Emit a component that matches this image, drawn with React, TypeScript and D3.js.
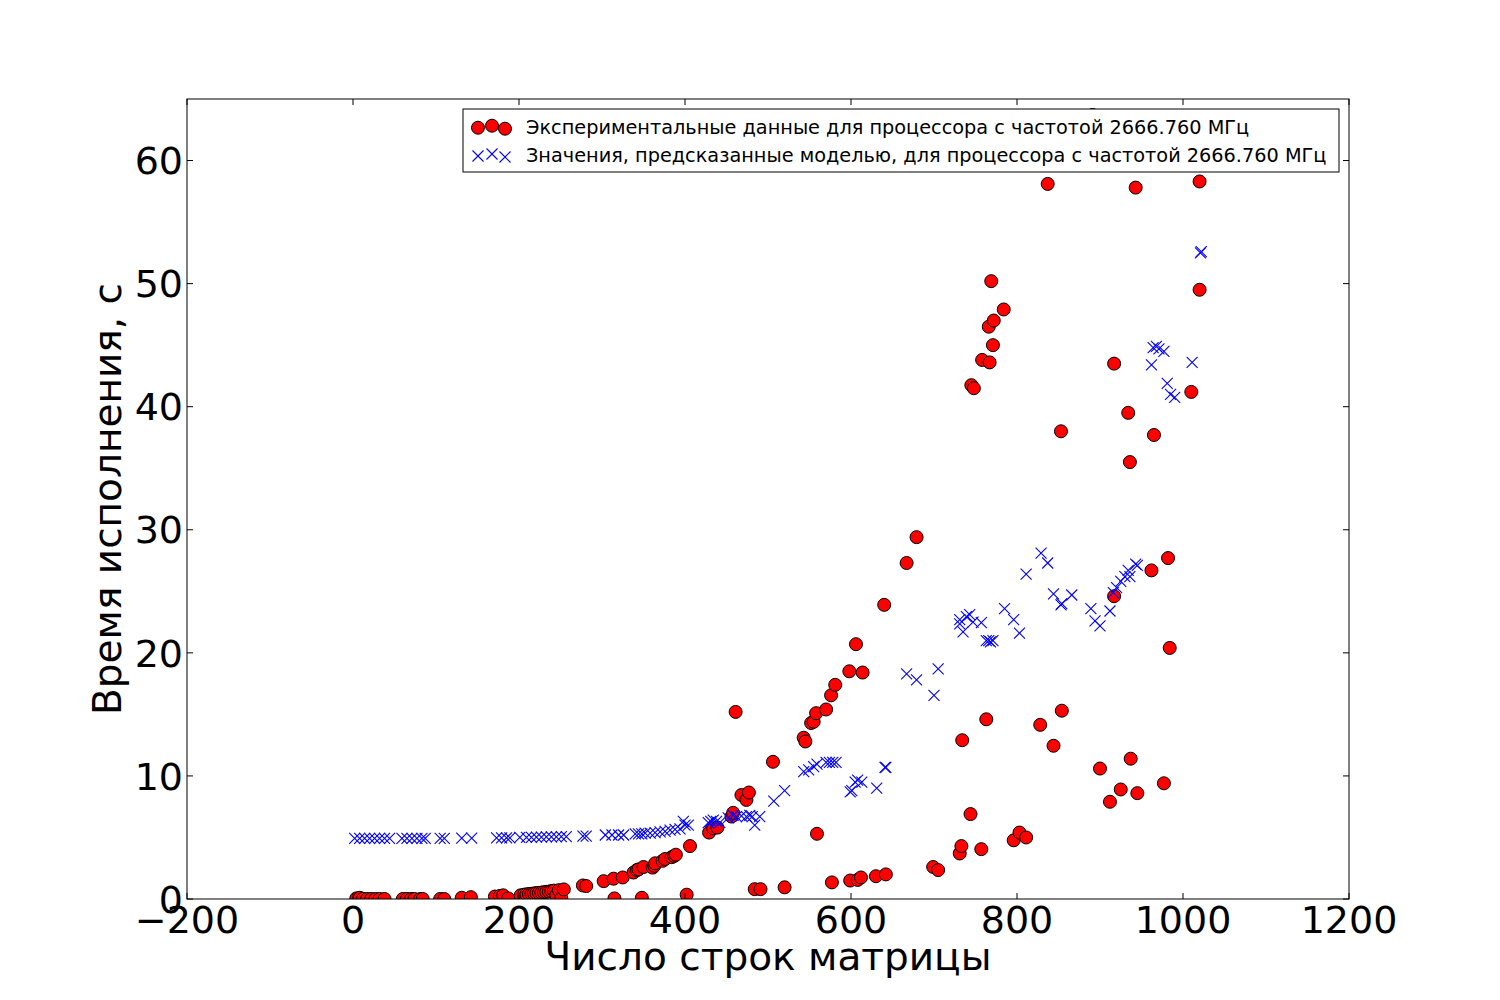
import React, { useEffect } from 'react';
import * as d3 from 'd3';

// Experimental timings (rows of matrix, seconds)
const expRows = [
  4, 8, 12, 17, 22, 27, 32, 38, 60, 65, 70, 74, 81, 84, 105, 110, 131, 142, 171, 177,
  181, 187, 202, 206, 209, 212, 215, 218, 221, 224, 227, 230, 233, 236, 239, 242, 245, 248, 251, 254,
  277, 281, 302, 314, 315, 325, 338, 342, 344, 348, 350, 361, 363, 364, 373, 376, 384, 387, 389, 402,
  406, 429, 434, 439, 456, 458, 461, 468, 474, 477, 484, 491, 506, 520, 543, 545, 552, 555, 558, 559,
  570, 576, 577, 581, 598, 599, 606, 608, 612, 614, 630, 640, 642, 667, 679, 699, 705, 731, 733, 734,
  744, 745, 748, 757, 758, 763, 766, 767, 769, 771, 772, 784, 796, 803, 811, 828, 837, 844, 853, 854,
  891, 900, 912, 917, 917, 925, 934, 936, 937, 943, 945, 962, 965, 977, 982, 984, 1010, 1020, 1020,
];
const expTime = [
  0.05, 0.1, 0.02, 0, 0, 0, 0, 0, 0, 0, 0, 0, 0, 0, 0, 0, 0.1, 0.15, 0.2, 0.25,
  0.3, 0.05, 0.3, 0.35, 0.38, 0.4, 0.42, 0.45, 0.48, 0.5, 0.52, 0.55, 0.58, 0.6, 0.65, 0.68, 0.3, 0.72, 0.05, 0.78,
  1.1, 1.05, 1.45, 1.65, 0.05, 1.75, 2.15, 2.35, 2.4, 0.1, 2.6, 2.55, 2.7, 2.9, 3.1, 3.25, 3.4, 3.5, 3.6, 0.35,
  4.3, 5.4, 5.75, 5.8, 6.7, 7.0, 15.2, 8.45, 8.05, 8.65, 0.8, 0.8, 11.15, 0.95, 13.1, 12.8, 14.3, 14.4, 15.1, 5.3,
  15.4, 16.55, 1.35, 17.4, 18.5, 1.5, 20.7, 1.55, 1.75, 18.4, 1.85, 23.9, 2.0, 27.3, 29.4, 2.6, 2.35, 3.7, 4.3, 12.9,
  6.9, 41.75, 41.5, 4.05, 43.8, 14.6, 46.5, 43.6, 50.2, 45.0, 47.0, 47.9, 4.77, 5.4, 5.0, 14.15, 58.1, 12.45, 38.0, 15.3,
  63.7, 10.6, 7.9, 43.5, 24.6, 8.9, 39.5, 35.5, 11.4, 57.8, 8.6, 26.7, 37.7, 9.4, 27.7, 20.4, 41.2, 58.3, 49.5,
];

// Model predictions
const modelRows = [
  2, 8, 14, 20, 26, 32, 38, 44, 59, 65, 71, 77, 83, 87, 105, 110, 131, 143, 173, 179,
  185, 189, 201, 209, 215, 221, 227, 233, 239, 245, 251, 257, 277, 281, 304, 312, 320, 326, 340, 344,
  348, 352, 358, 364, 370, 376, 382, 388, 394, 398, 400, 404, 428, 431, 434, 438, 442, 452, 458, 462,
  468, 474, 478, 481, 484, 490, 507, 520, 543, 549, 555, 559, 570, 574, 578, 582, 599, 601, 605, 608,
  613, 631, 641, 642, 667, 679, 700, 705, 731, 731, 735, 739, 743, 747, 757, 763, 766, 768, 771, 785,
  796, 803, 811, 829, 837, 844, 853, 854, 866, 889, 894, 900, 912, 916, 920, 925, 930, 934, 936, 943,
  945, 962, 964, 968, 971, 977, 981, 985, 990, 1011, 1021, 1022,
];
const modelTime = [
  4.93, 4.93, 4.93, 4.93, 4.93, 4.93, 4.93, 4.93, 4.93, 4.93, 4.93, 4.93, 4.93, 4.93, 4.93, 4.93, 4.95, 4.95, 4.97, 4.97,
  4.97, 4.97, 5.0, 5.0, 5.0, 5.02, 5.02, 5.05, 5.05, 5.05, 5.07, 5.07, 5.1, 5.1, 5.2, 5.2, 5.2, 5.2, 5.3, 5.3,
  5.3, 5.35, 5.35, 5.4, 5.45, 5.5, 5.6, 5.65, 5.7, 6.3, 6.0, 6.0, 6.2, 6.3, 6.4, 6.3, 6.2, 6.6, 6.8, 6.7,
  6.75, 6.7, 6.8, 6.7, 6.0, 6.7, 7.95, 8.8, 10.35, 10.5, 10.75, 10.95, 11.1, 11.1, 11.1, 11.1, 8.7, 8.8, 9.5, 9.65,
  9.5, 9.0, 10.7, 10.7, 18.3, 17.8, 16.55, 18.7, 22.7, 22.35, 21.7, 22.95, 23.1, 22.5, 22.45, 21.0, 21.0, 20.9, 21.0, 23.6,
  22.7, 21.6, 26.4, 28.1, 27.3, 24.8, 23.9, 24.0, 24.7, 23.6, 22.6, 22.2, 23.4, 24.9, 25.3, 25.8, 26.2, 26.7, 26.2, 27.2,
  27.1, 43.4, 44.8, 44.9, 44.7, 44.5, 41.9, 41.0, 40.75, 43.6, 52.5, 52.6,
];

const xTicks = [-200, 0, 200, 400, 600, 800, 1000, 1200];
const yTicks = [0, 10, 20, 30, 40, 50, 60];

const expLabel = 'Экспериментальные данные для процессора с частотой 2666.760 МГц';
const modelLabel = 'Значения, предсказанные моделью, для процессора с частотой 2666.760 МГц';
const xTitle = 'Число строк матрицы';
const yTitle = 'Время исполнения, с';

// matplotlib's legend scatter offsets
const legendOffsets = [0.375, 0.5, 0.3125];

const W = 1500;
const H = 1000;
const margin = { left: 187, right: 151, top: 99, bottom: 101 };
const FONT = '"DejaVu Sans", sans-serif';

export default function App() {
  useEffect(() => {
    document.body.style.margin = '0';
  }, []);

  const x = d3.scaleLinear().domain([-200, 1200]).range([margin.left, W - margin.right]);
  const y = d3.scaleLinear().domain([0, 65]).range([H - margin.bottom, margin.top]);
  const fmt = d3.format('d');

  const x0 = margin.left, x1 = W - margin.right, y0 = H - margin.bottom, y1 = margin.top;
  const tickLen = 6;
  const r = 6.5;
  const xs = 5.5;

  const cross = (cx: number, cy: number, k: number) =>
    `M${cx - k},${cy - k}L${cx + k},${cy + k}M${cx - k},${cy + k}L${cx + k},${cy - k}`;

  // legend geometry
  const lg = { x: 463, y: 109, w: 876, h: 63 };
  const lgMarkX = [478, 492, 505];
  const row1 = 127.5, row2 = 155.5;

  return (
    <svg width={W} height={H} style={{ display: 'block', background: '#fff' }} fontFamily={FONT}>
      <defs>
        <clipPath id="plot-clip">
          <rect x={x0} y={y1} width={x1 - x0} height={y0 - y1} />
        </clipPath>
      </defs>
      <rect x={0} y={0} width={W} height={H} fill="#fff" />

      <g clipPath="url(#plot-clip)">
        {expRows.map((v, i) => (
          <circle key={`e${i}`} cx={x(v)} cy={y(expTime[i])} r={r} fill="#ff0000" stroke="#000" strokeWidth={1} />
        ))}
        {modelRows.map((v, i) => (
          <path key={`m${i}`} d={cross(x(v), y(modelTime[i]), xs)} stroke="#0000ff" strokeWidth={1.1} fill="none" />
        ))}
      </g>

      {/* frame */}
      <rect x={x0} y={y1} width={x1 - x0} height={y0 - y1} fill="none" stroke="#000" strokeWidth={1} />

      {/* x ticks */}
      {xTicks.map((t) => (
        <g key={`xt${t}`}>
          <line x1={x(t)} x2={x(t)} y1={y0} y2={y0 - tickLen} stroke="#000" />
          <line x1={x(t)} x2={x(t)} y1={y1} y2={y1 + tickLen} stroke="#000" />
          <text x={x(t)} y={y0 + 34} textAnchor="middle" fontSize={38} fill="#000">
            {fmt(t)}
          </text>
        </g>
      ))}

      {/* y ticks */}
      {yTicks.map((t) => (
        <g key={`yt${t}`}>
          <line x1={x0} x2={x0 + tickLen} y1={y(t)} y2={y(t)} stroke="#000" />
          <line x1={x1} x2={x1 - tickLen} y1={y(t)} y2={y(t)} stroke="#000" />
          <text x={x0 - 4} y={y(t)} dy="0.36em" textAnchor="end" fontSize={38} fill="#000">
            {fmt(t)}
          </text>
        </g>
      ))}

      {/* axis titles */}
      <text x={(x0 + x1) / 2} y={970} textAnchor="middle" fontSize={39} fill="#000">
        {xTitle}
      </text>
      <text
        transform={`translate(${121},${(y0 + y1) / 2}) rotate(-90)`}
        textAnchor="middle"
        fontSize={39}
        fill="#000"
      >
        {yTitle}
      </text>

      {/* legend */}
      <g>
        <rect x={lg.x} y={lg.y} width={lg.w} height={lg.h} fill="#fff" stroke="#000" strokeWidth={1} />
        {legendOffsets.map((o, i) => (
          <circle
            key={`le${i}`}
            cx={lgMarkX[i]}
            cy={row1 - 1.8 + (0.5 - o) * 16}
            r={r}
            fill="#ff0000"
            stroke="#000"
            strokeWidth={1}
          />
        ))}
        {legendOffsets.map((o, i) => (
          <path
            key={`lm${i}`}
            d={cross(lgMarkX[i], row2 - 1.5 + (0.5 - o) * 16, xs)}
            stroke="#0000ff"
            strokeWidth={1.1}
            fill="none"
          />
        ))}
        <text x={526} y={row1} dy="0.36em" fontSize={19.3} fill="#000">
          {expLabel}
        </text>
        <text x={526} y={row2} dy="0.36em" fontSize={19.3} fill="#000">
          {modelLabel}
        </text>
      </g>
    </svg>
  );
}
